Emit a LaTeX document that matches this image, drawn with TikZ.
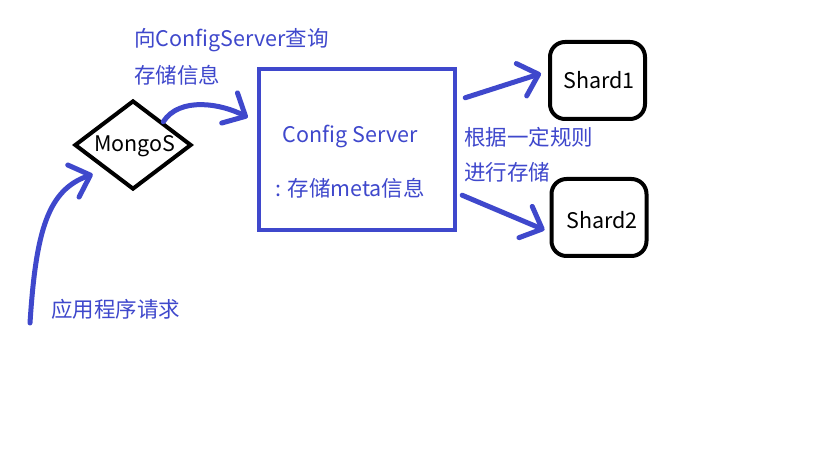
\documentclass[tikz,border=0pt]{standalone}
\usepackage{fontspec}
\newfontfamily\cjk{Noto Sans CJK SC}
\usetikzlibrary{shapes.geometric,arrows.meta}
\definecolor{paintblue}{RGB}{63,72,204}
\tikzset{
  x=1pt,y=-1pt,
  blk/.style={draw=black,line width=4pt},
  bluetxt/.style={text=paintblue,font=\cjk\fontsize{21.5}{24}\selectfont,inner sep=0pt},
  blacktxt/.style={text=black,font=\cjk\fontsize{21.5}{24}\selectfont,inner sep=0pt},
  flow/.style={draw=paintblue,line width=5pt,line cap=round,
    -{Straight Barb[length=18pt,width=34pt,round]}},
  shardbox/.style={blk,rounded corners=15pt,minimum width=95pt,minimum height=77pt,inner sep=0pt}
}
\begin{document}
\begin{tikzpicture}
\useasboundingbox (0,0) rectangle (825,465);
\fill[white] (0,0) rectangle (825,465);
% nodes
\node[blk,diamond,minimum width=117pt,minimum height=89pt,inner sep=0pt] (mongos) at (133,145) {};
\node[blacktxt,anchor=center] (mongotxt) at (135,146) {MongoS};
\node[draw=paintblue,line width=4.5pt,minimum width=196pt,minimum height=161pt,inner sep=0pt] (config) at (357,149.5) {};
\node[bluetxt] (cfgtitle) at (350,136) {Config Server};
\node[bluetxt] (cfgmeta) at (350,188) {: 存储meta信息};
\node[shardbox] (shard1) at (597.5,80.5) {};
\node[blacktxt] (s1txt) at (599,80) {Shard1};
\node[shardbox] (shard2) at (599,217.5) {};
\node[blacktxt] (s2txt) at (602,220) {Shard2};
% labels
\node[bluetxt,anchor=west] (lq1) at (134,40) {向ConfigServer查询};
\node[bluetxt,anchor=west] (lq2) at (134,75) {存储信息};
\node[bluetxt,anchor=west] (lr1) at (464,137) {根据一定规则};
\node[bluetxt,anchor=west] (lr2) at (464,172) {进行存储};
\node[bluetxt,anchor=west] (lapp) at (51,309) {应用程序请求};
% connectors
\coordinate (appstart) at (30,323);
\draw[flow] (appstart) .. controls (36,230) and (48,190) .. ([shift={(-10,6)}]mongos.south west);
\draw[flow] (mongos.north east) .. controls (180,96) and (222,104) .. ([shift={(-9,-32)}]config.west);
\draw[flow] ([shift={(8,31)}]config.north east) -- ([shift={(-7,-7)}]shard1.west);
\draw[flow] ([shift={(5,-37)}]config.south east) -- ([shift={(-5,12.5)}]shard2.west);
\end{tikzpicture}
\end{document}
